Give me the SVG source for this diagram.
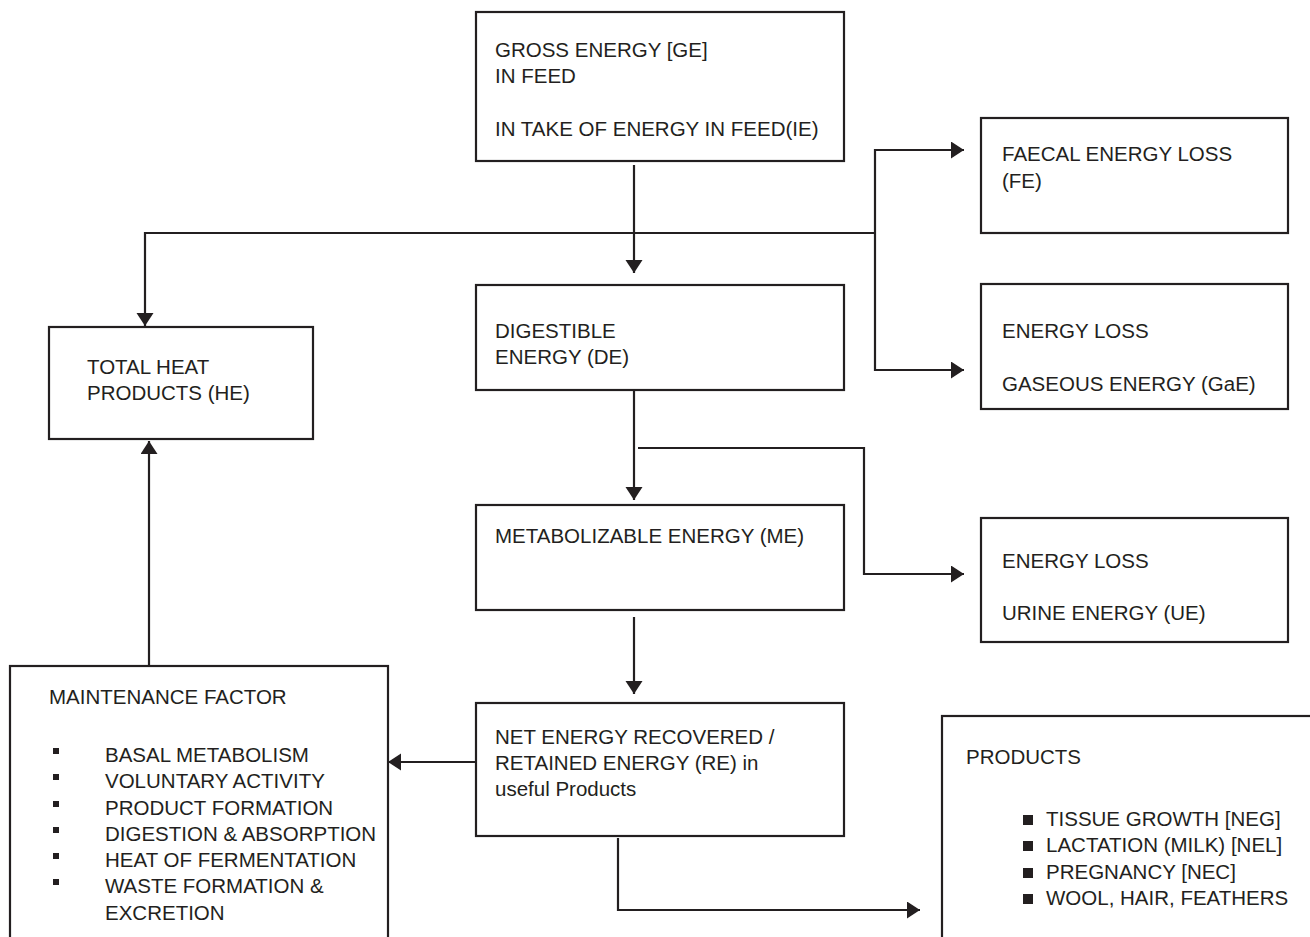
<svg xmlns="http://www.w3.org/2000/svg" width="1310" height="937" viewBox="0 0 1310 937">
<style>
.box{fill:#fff;stroke:#231f20;stroke-width:2.2}
.c{fill:none;stroke:#231f20;stroke-width:2.2}
text{font-family:"Liberation Sans",Arial,sans-serif;font-size:20.5px;fill:#231f20}
.b{fill:#231f20}
</style>
<defs>
<marker id="ah" markerUnits="userSpaceOnUse" markerWidth="14" markerHeight="18" refX="13" refY="8.5" orient="auto">
<path d="M0,0 L13,8.5 L0,17 z" fill="#231f20"/>
</marker>
</defs>
<rect width="1310" height="937" fill="#fff"/>
<g id="connectors">
<path class="c" d="M634,165 V273" marker-end="url(#ah)"/>
<path class="c" d="M875,233 H145 V326" marker-end="url(#ah)"/>
<path class="c" d="M875,233 V150 H964" marker-end="url(#ah)"/>
<path class="c" d="M875,233 V370 H964" marker-end="url(#ah)"/>
<path class="c" d="M634,391 V500" marker-end="url(#ah)"/>
<path class="c" d="M638,448 H864 V574 H964" marker-end="url(#ah)"/>
<path class="c" d="M634,617 V694" marker-end="url(#ah)"/>
<path class="c" d="M476,762 H388" marker-end="url(#ah)"/>
<path class="c" d="M618,838 V910 H920" marker-end="url(#ah)"/>
<path class="c" d="M149,666 V441" marker-end="url(#ah)"/>
</g>
<g id="ge">
<rect class="box" x="476" y="12" width="368" height="149"/>
<text x="495" y="57">GROSS ENERGY [GE]</text>
<text x="495" y="83">IN FEED</text>
<text x="495" y="136">IN TAKE OF ENERGY IN FEED(IE)</text>
</g>
<g id="de">
<rect class="box" x="476" y="285" width="368" height="105"/>
<text x="495" y="338">DIGESTIBLE</text>
<text x="495" y="364">ENERGY (DE)</text>
</g>
<g id="me">
<rect class="box" x="476" y="505" width="368" height="105"/>
<text x="495" y="543">METABOLIZABLE ENERGY (ME)</text>
</g>
<g id="re">
<rect class="box" x="476" y="703" width="368" height="133"/>
<text x="495" y="744">NET ENERGY RECOVERED /</text>
<text x="495" y="770">RETAINED ENERGY (RE) in</text>
<text x="495" y="796">useful Products</text>
</g>
<g id="he">
<rect class="box" x="49" y="327" width="264" height="112"/>
<text x="87" y="374">TOTAL HEAT</text>
<text x="87" y="400">PRODUCTS (HE)</text>
</g>
<g id="fe">
<rect class="box" x="981" y="118" width="307" height="115"/>
<text x="1002" y="161">FAECAL ENERGY LOSS</text>
<text x="1002" y="188">(FE)</text>
</g>
<g id="gae">
<rect class="box" x="981" y="284" width="307" height="125"/>
<text x="1002" y="338">ENERGY LOSS</text>
<text x="1002" y="391">GASEOUS ENERGY (GaE)</text>
</g>
<g id="ue">
<rect class="box" x="981" y="518" width="307" height="124"/>
<text x="1002" y="568">ENERGY LOSS</text>
<text x="1002" y="620">URINE ENERGY (UE)</text>
</g>
<g id="maintenance">
<rect class="box" x="10" y="666" width="378" height="290"/>
<text x="49" y="704">MAINTENANCE FACTOR</text>
<rect class="b" x="53" y="748" width="6" height="6"/>
<rect class="b" x="53" y="774" width="6" height="6"/>
<rect class="b" x="53" y="801" width="6" height="6"/>
<rect class="b" x="53" y="827" width="6" height="6"/>
<rect class="b" x="53" y="853" width="6" height="6"/>
<rect class="b" x="53" y="879" width="6" height="6"/>
<text x="105" y="762">BASAL METABOLISM</text>
<text x="105" y="788">VOLUNTARY ACTIVITY</text>
<text x="105" y="815">PRODUCT FORMATION</text>
<text x="105" y="841">DIGESTION &amp; ABSORPTION</text>
<text x="105" y="867">HEAT OF FERMENTATION</text>
<text x="105" y="893">WASTE FORMATION &amp;</text>
<text x="105" y="920">EXCRETION</text>
</g>
<g id="products">
<rect class="box" x="942" y="716" width="420" height="260"/>
<text x="966" y="764">PRODUCTS</text>
<rect class="b" x="1023" y="815" width="10" height="10"/>
<rect class="b" x="1023" y="841" width="10" height="10"/>
<rect class="b" x="1023" y="868" width="10" height="10"/>
<rect class="b" x="1023" y="894" width="10" height="10"/>
<text x="1046" y="826">TISSUE GROWTH [NEG]</text>
<text x="1046" y="852">LACTATION (MILK) [NEL]</text>
<text x="1046" y="879">PREGNANCY [NEC]</text>
<text x="1046" y="905">WOOL, HAIR, FEATHERS</text>
</g>
</svg>
